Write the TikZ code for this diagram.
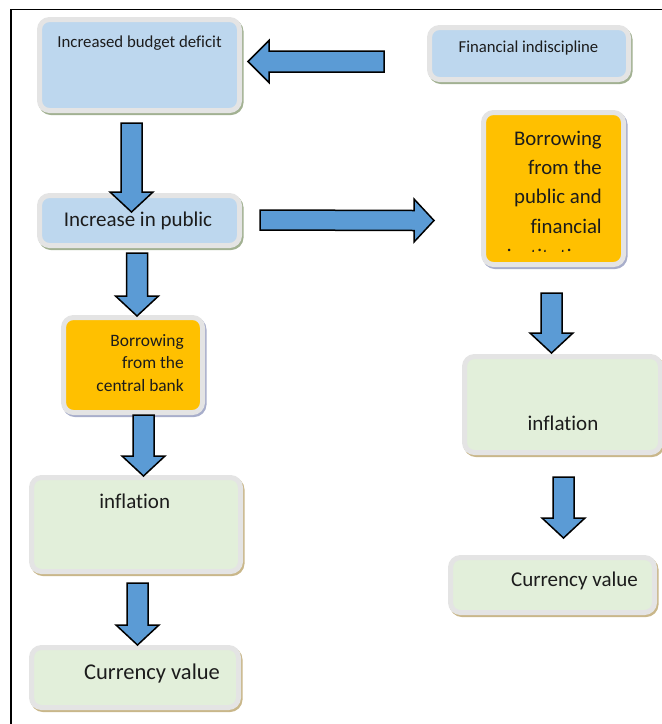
\documentclass[tikz,border=0pt]{standalone}
\usepackage{fontspec}
\setmainfont{Carlito}[Ligatures=CommonOff]
\usetikzlibrary{calc}
\definecolor{bluefill}{HTML}{BDD7EE}
\definecolor{orangefill}{HTML}{FFC000}
\definecolor{greenfill}{HTML}{E2EFDA}
\definecolor{ringgray}{HTML}{E4E4E4}
\definecolor{shblue}{HTML}{A2B192}
\definecolor{shorange}{HTML}{A8AECB}
\definecolor{shgreen}{HTML}{C9B78A}
\definecolor{arrowblue}{HTML}{5B9BD5}
\definecolor{txt}{HTML}{1C1C1C}
\tikzset{
  boxbase/.style={rectangle, rounded corners=10pt, inner sep=0pt, draw=ringgray, line width=5pt,
    preaction={draw=#1, fill=#1, line width=5pt, transform canvas={shift={(1.5pt,-2pt)}}}},
  bluebox/.style={boxbase=shblue, fill=bluefill},
  orangebox/.style={boxbase=shorange, fill=orangefill},
  greenbox/.style={boxbase=shgreen, fill=greenfill},
  barrow/.style={draw=black, fill=arrowblue, line width=1.5pt, line join=miter},
  lbl/.style={inner sep=0pt, text=txt},
  frame/.style={draw=black, line width=1.8pt}
}
\newcommand\downblock[2]{%
  \draw[barrow] ($(#1)+(-10.5,0)$) -- ($(#1)+(10.5,0)$) -- ($(#2)+(10.5,-20)$) -- ($(#2)+(21.5,-20)$)
    -- (#2) -- ($(#2)+(-21.5,-20)$) -- ($(#2)+(-10.5,-20)$) -- cycle;}
\newcommand\leftblock[2]{%
  \draw[barrow] ($(#1)+(0,-10.5)$) -- ($(#1)+(0,10.5)$) -- ($(#2)+(21,10.5)$) -- ($(#2)+(21,21)$)
    -- (#2) -- ($(#2)+(21,-21)$) -- ($(#2)+(21,-10.5)$) -- cycle;}
\newcommand\rightblock[2]{%
  \draw[barrow] ($(#1)+(0,-10)$) -- ($(#1)+(0,10)$) -- ($(#2)+(-20,10)$) -- ($(#2)+(-20,21.5)$)
    -- (#2) -- ($(#2)+(-20,-21.5)$) -- ($(#2)+(-20,-10)$) -- cycle;}
\begin{document}
\begin{tikzpicture}[x=1pt, y=-1pt]
\useasboundingbox (0,0) rectangle (662,724);
% frame
\coordinate (fa) at (11,724);
\coordinate (fb) at (11,9.5);
\coordinate (fc) at (662,9.5);
\draw[frame] (fa) -- (fb) -- (fc);
% boxes
\node[bluebox, minimum width=200pt, minimum height=91pt] (deficit) at (139.5,65) {};
\node[bluebox, minimum width=200pt, minimum height=50pt] (public) at (139.5,220.5) {};
\node[bluebox, minimum width=199pt, minimum height=52pt] (indisc) at (529,53.5) {};
\node[orangebox, minimum width=140pt, minimum height=152pt] (borrowpub) at (553.5,188.5) {};
\node[orangebox, minimum width=139pt, minimum height=95pt] (borrowcb) at (133,365) {};
\node[greenbox, minimum width=209pt, minimum height=94pt] (inflL) at (136,524.5) {};
\node[greenbox, minimum width=207pt, minimum height=60pt] (currL) at (135,677.5) {};
\node[greenbox, minimum width=196pt, minimum height=96pt] (inflR) at (562.5,404.5) {};
\node[greenbox, minimum width=204pt, minimum height=55pt] (currR) at (552.5,585) {};
% texts
\node[lbl, anchor=base, font=\fontsize{16.8}{20}\selectfont] (tdef) at (139.5,47) {Increased budget deficit};
\node[lbl, anchor=base, font=\fontsize{21}{25}\selectfont] (tpub) at (138,226) {Increase in public};
\node[lbl, anchor=base, font=\fontsize{16.7}{20}\selectfont] (tind) at (528.5,52.7) {Financial indiscipline};
\node[lbl, anchor=base east, font=\fontsize{20.8}{25}\selectfont] (tbp1) at (602,145) {Borrowing};
\node[lbl, anchor=base east, font=\fontsize{20.8}{25}\selectfont] (tbp2) at (602,174.4) {from the};
\node[lbl, anchor=base east, font=\fontsize{20.8}{25}\selectfont] (tbp3) at (602,203.8) {public and};
\node[lbl, anchor=base east, font=\fontsize{20.8}{25}\selectfont] (tbp4) at (602,233.2) {financial};
\begin{scope}
\clip (481,110) rectangle (626,251);
\node[lbl, anchor=base east, font=\fontsize{20.8}{25}\selectfont] (tbp5) at (602,263) {institutions};
\end{scope}
\node[lbl, anchor=base east, font=\fontsize{17.4}{20}\selectfont] (tcb1) at (184,346) {Borrowing};
\node[lbl, anchor=base east, font=\fontsize{17.4}{20}\selectfont] (tcb2) at (184,368.8) {from the};
\node[lbl, anchor=base east, font=\fontsize{17.4}{20}\selectfont] (tcb3) at (184,391.8) {central bank};
\node[lbl, anchor=base, font=\fontsize{21}{25}\selectfont] (tinfL) at (134.7,508.3) {inflation};
\node[lbl, anchor=base, font=\fontsize{22.5}{26}\selectfont] (tcurL) at (152,679) {Currency value};
\node[lbl, anchor=base, font=\fontsize{21}{25}\selectfont] (tinfR) at (563,430) {inflation};
\node[lbl, anchor=base, font=\fontsize{21}{25}\selectfont] (tcurR) at (574.5,586) {Currency value};
% arrows
\coordinate (a1s) at (131.5,123); \coordinate (a1t) at (131.5,212);
\coordinate (a2s) at (137,253);   \coordinate (a2t) at (137,316);
\coordinate (a3s) at (143.5,415); \coordinate (a3t) at (143.5,476);
\coordinate (a4s) at (137.5,583); \coordinate (a4t) at (137.5,645);
\coordinate (a5s) at (551.5,293); \coordinate (a5t) at (551.5,353);
\coordinate (a6s) at (563.5,477); \coordinate (a6t) at (563.5,538);
\coordinate (als) at (384,61.5);  \coordinate (alt) at (248,61.5);
\coordinate (ars) at (260,220);   \coordinate (art) at (434,220.5);
\downblock{a1s}{a1t}
\downblock{a2s}{a2t}
\downblock{a3s}{a3t}
\downblock{a4s}{a4t}
\downblock{a5s}{a5t}
\downblock{a6s}{a6t}
\leftblock{als}{alt}
\rightblock{ars}{art}
\end{tikzpicture}
\end{document}
